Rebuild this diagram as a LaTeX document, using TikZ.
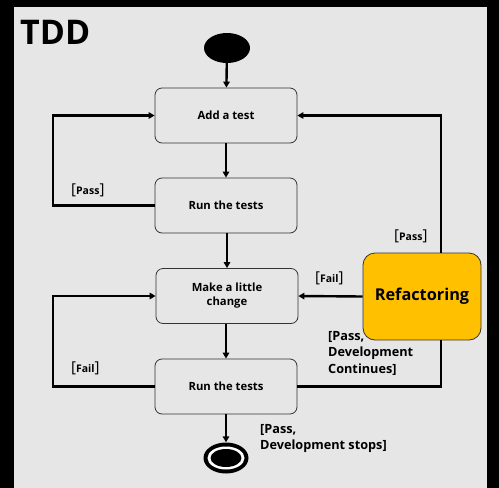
\documentclass[tikz,border=0pt]{standalone}
\usepackage{fontspec}
\setmainfont{Open Sans}
\usetikzlibrary{arrows.meta,shapes.geometric}
\definecolor{panel}{HTML}{E6E6E6}
\definecolor{gold}{HTML}{FFC000}
\tikzset{
  stepbox/.style={draw=black!80, line width=0.8pt, rounded corners=7pt, fill=panel,
    minimum width=142pt, minimum height=55pt, align=center, inner sep=0pt,
    font=\fontsize{11.3}{14}\selectfont\bfseries},
  flow/.style={line width=2.4pt, -{Triangle[length=6pt,width=6.5pt]}},
  plain/.style={line width=2.4pt},
  guard/.style={font=\fontsize{12.7}{16.5}\selectfont\bfseries, align=left, inner sep=0pt},
  smallguard/.style={font=\fontsize{10.5}{16}\selectfont\bfseries, align=left, inner sep=0pt},
}
\newcommand{\brk}[1]{{\fontsize{15}{16}\selectfont\mdseries[}#1{\fontsize{15}{16}\selectfont\mdseries]}}
\begin{document}
\begin{tikzpicture}[x=1pt,y=-1pt]
\fill[black] (0,0) rectangle (499,488);
\useasboundingbox (0,0) rectangle (499,488);
\fill[panel] (14,7) rectangle (487,488);
\node[anchor=west, inner sep=0pt, font=\fontsize{34}{36}\selectfont\bfseries] (title) at (20,32) {TDD};
\node[ellipse, fill=black, minimum width=46pt, minimum height=30pt, inner sep=0pt] (start) at (227,48) {};
\node[stepbox] (add) at (226,115.5) {Add a test};
\node[stepbox] (run1) at (226,205.5) {Run the tests};
\node[stepbox] (make) at (227,296) {Make a little\\change};
\node[stepbox] (run2) at (226,386.5) {Run the tests};
\node[draw=black!80, line width=0.8pt, rounded corners=12pt, fill=gold, minimum width=118pt, minimum height=87pt, inner sep=0pt,
  font=\fontsize{16.3}{18}\selectfont\bfseries] (ref) at (422,296.5) {Refactoring};
\node[ellipse, fill=black, minimum width=45pt, minimum height=31pt, inner sep=0pt] (endo) at (226,458) {};
\node[ellipse, fill=white, minimum width=37pt, minimum height=23pt, inner sep=0pt] (endw) at (226,458) {};
\node[ellipse, fill=black, minimum width=31pt, minimum height=18pt, inner sep=0pt] (end) at (226,458) {};
\coordinate (l1) at (53,205.5);
\coordinate (l1t) at (53,115.5);
\coordinate (l2) at (53,386.5);
\coordinate (l2t) at (53,296);
\coordinate (r1) at (441,115.5);
\coordinate (r2) at (441,386.5);
\draw[flow] (start) -- (add);
\draw[flow] (add) -- (run1);
\draw[flow] (run1.south -| make) -- (make);
\draw[flow] (make.south -| run2) -- (run2);
\draw[flow] (run2) -- (endo);
\draw[flow] (run1.west) -- (l1) -- (l1t) -- (add.west);
\draw[flow] (run2.west) -- (l2) -- (l2t) -- (make.west);
\draw[flow] (ref.west) -- (make.east);
\draw[flow] (ref.north -| r1) -- (r1) -- (add.east);
\draw[plain] (run2.east) -- (r2) -- (ref.south -| r2);
\node[smallguard, anchor=west] (g1) at (71,190) {\brk{Pass}};
\node[smallguard, anchor=west] (g2) at (394,236) {\brk{Pass}};
\node[smallguard, anchor=west] (g3) at (315,278) {\brk{Fail}};
\node[smallguard, anchor=west] (g4) at (71,368) {\brk{Fail}};
\node[guard, anchor=north west] (g5) at (328,331) {[Pass,\\Development\\Continues]};
\node[guard, anchor=north west] (g6) at (260,424) {[Pass,\\Development stops]};
\end{tikzpicture}
\end{document}
